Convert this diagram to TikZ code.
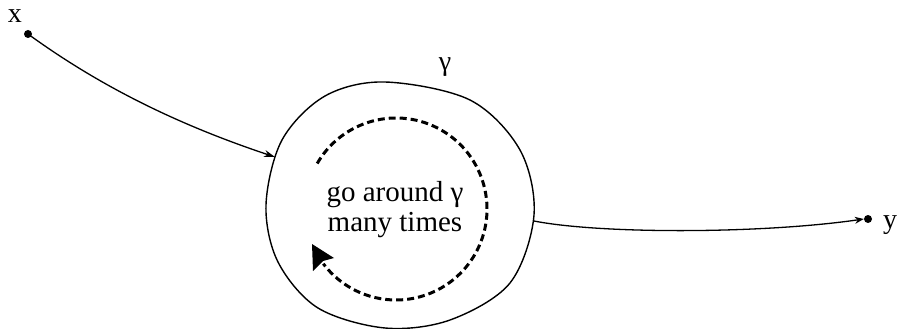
\documentclass[tikz,border=0pt]{standalone}
\usepackage{fontspec}
\setmainfont{Liberation Serif}
\usetikzlibrary{arrows.meta}
\begin{document}
\begin{tikzpicture}[x=1pt,y=-1pt,
  lbl/.style={font=\fontsize{28}{30}\selectfont, inner sep=0pt, anchor=base},
  txt/.style={font=\fontsize{29}{30}\selectfont, align=center, inner sep=0pt},
  dotnode/.style={circle, fill=black, inner sep=0pt, minimum size=8pt},
  conn/.style={line width=1.3pt},
  blob/.style={line width=1.4pt},
  loopy/.style={line width=3pt, dash pattern=on 7pt off 4pt}
]
\useasboundingbox (0,0) rectangle (898,329);
% labels
\node[lbl] (xl) at (15,23) {x};
\node[lbl] (gl) at (445,71) {γ};
\node[lbl] (yl) at (890,228) {y};
% dots
\node[dotnode] (xd) at (28,34) {};
\node[dotnode] (yd) at (868,219) {};
% the closed curve gamma
\draw[blob] plot[smooth cycle, tension=0.55] coordinates {
  (385,82) (470,100) (520,150) (534,215) (510,283) (450,320) (385,328)
  (318,308) (278,262) (266,205) (282,140) (325,96)};
\coordinate (in) at (275,157);
\coordinate (out) at (534,221);
% connectors
\draw[conn, -{Stealth[length=11pt,width=7pt]}] (xd.center) .. controls (105,90) and (185,127) .. (in);
\draw[conn, -{Stealth[length=9pt,width=7pt]}] (out) .. controls (600,234) and (760,234) .. (yd.west);
% dashed loop
\node[txt] (t) at (395,210) {go around γ\\many times};
\coordinate (c) at (396,209);
\draw[loopy] (c) ++(210:91) arc[start angle=210, end angle=503, radius=91];
\fill (312,244) -- (334,258) -- (323,261) -- (313,271) -- cycle;
\end{tikzpicture}
\end{document}
